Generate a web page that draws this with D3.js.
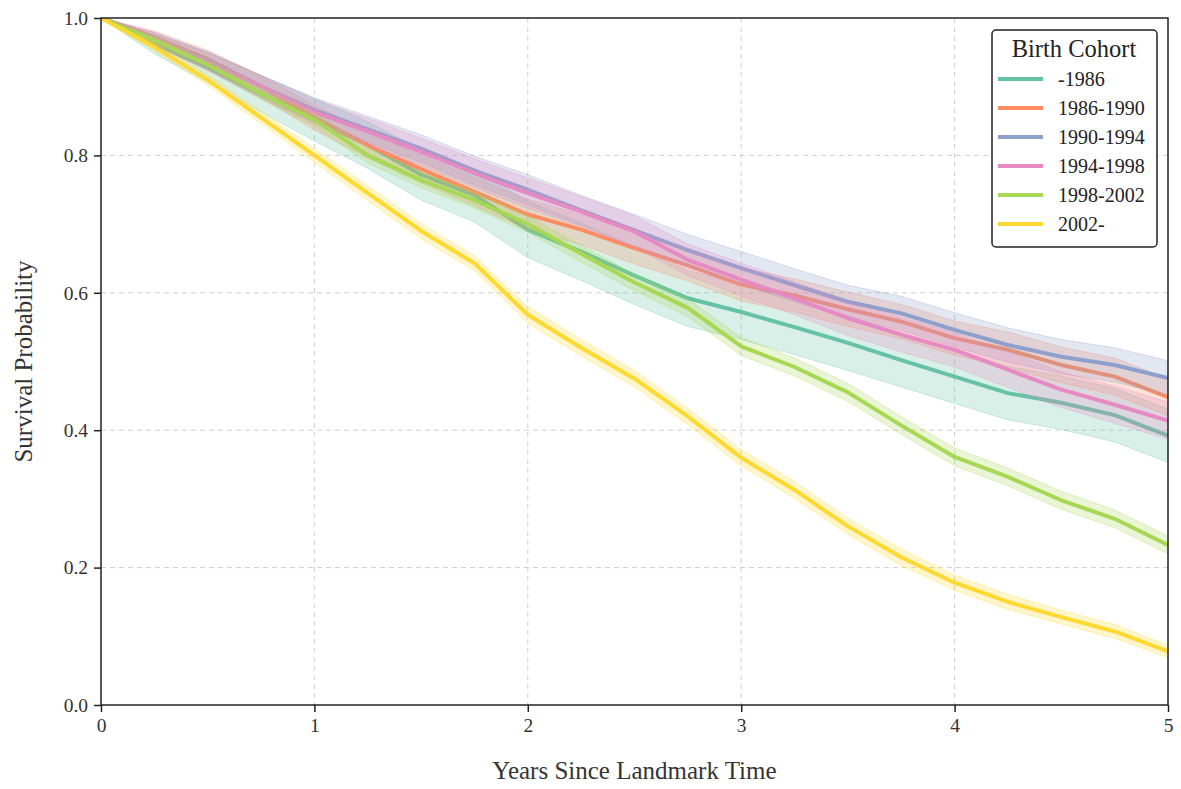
<!DOCTYPE html>
<html>
<head>
<meta charset="utf-8">
<script src="https://cdn.jsdelivr.net/npm/d3@7"></script>
<style>
  body { margin: 0; background: #fff; }
  svg { font-family: "Liberation Serif", "Times New Roman", serif; }
</style>
</head>
<body>
<div id="plot"></div>
<script>
// Time grid (years since landmark) shared by every cohort
const times = [0, 0.25, 0.5, 0.75, 1, 1.25, 1.5, 1.75, 2, 2.25, 2.5, 2.75, 3, 3.25, 3.5, 3.75, 4, 4.25, 4.5, 4.75, 5];

const cohorts = ["-1986", "1986-1990", "1990-1994", "1994-1998", "1998-2002", "2002-"];
const colors = ["#66c2a5", "#fc8d62", "#8da0cb", "#e78ac3", "#a6d854", "#ffd92f"];

// survival estimates
const surv1986 = [1.0, 0.962, 0.928, 0.89, 0.852, 0.815, 0.772, 0.742, 0.692, 0.66, 0.625, 0.592, 0.572, 0.55, 0.527, 0.502, 0.478, 0.454, 0.44, 0.422, 0.392];
const surv1990 = [1.0, 0.972, 0.94, 0.9, 0.855, 0.815, 0.78, 0.747, 0.714, 0.692, 0.665, 0.64, 0.612, 0.596, 0.576, 0.558, 0.534, 0.517, 0.495, 0.478, 0.448];
const surv1994 = [1.0, 0.97, 0.938, 0.9, 0.866, 0.838, 0.81, 0.778, 0.75, 0.72, 0.691, 0.662, 0.636, 0.611, 0.587, 0.57, 0.546, 0.524, 0.507, 0.495, 0.476];
const surv1998 = [1.0, 0.97, 0.936, 0.9, 0.863, 0.835, 0.805, 0.774, 0.745, 0.718, 0.689, 0.648, 0.619, 0.592, 0.563, 0.539, 0.517, 0.488, 0.459, 0.437, 0.414];
const surv2002 = [1.0, 0.968, 0.932, 0.89, 0.852, 0.8, 0.764, 0.735, 0.7, 0.657, 0.615, 0.578, 0.522, 0.492, 0.455, 0.407, 0.361, 0.332, 0.298, 0.271, 0.233];
const survLate = [1.0, 0.958, 0.91, 0.855, 0.8, 0.745, 0.69, 0.643, 0.568, 0.52, 0.475, 0.42, 0.36, 0.313, 0.26, 0.215, 0.178, 0.15, 0.128, 0.107, 0.078];

// half width of the 95% confidence band
const ci1986 = [0, 0.014, 0.022, 0.027, 0.031, 0.034, 0.037, 0.039, 0.041, 0.042, 0.042, 0.041, 0.04, 0.04, 0.04, 0.039, 0.039, 0.039, 0.039, 0.039, 0.039];
const ci1990 = [0, 0.009, 0.013, 0.016, 0.018, 0.019, 0.02, 0.021, 0.022, 0.022, 0.023, 0.023, 0.024, 0.024, 0.025, 0.025, 0.025, 0.026, 0.026, 0.027, 0.027];
const ci1994 = [0, 0.009, 0.013, 0.016, 0.018, 0.019, 0.02, 0.021, 0.022, 0.022, 0.023, 0.023, 0.024, 0.024, 0.024, 0.025, 0.025, 0.025, 0.025, 0.025, 0.025];
const ci1998 = [0, 0.009, 0.013, 0.016, 0.018, 0.019, 0.02, 0.021, 0.022, 0.022, 0.023, 0.023, 0.024, 0.024, 0.025, 0.025, 0.025, 0.026, 0.026, 0.027, 0.027];
const ci2002 = [0, 0.006, 0.008, 0.009, 0.01, 0.011, 0.011, 0.012, 0.012, 0.012, 0.012, 0.013, 0.013, 0.013, 0.013, 0.013, 0.013, 0.013, 0.013, 0.013, 0.013];
const ciLate = [0, 0.006, 0.008, 0.009, 0.01, 0.011, 0.011, 0.011, 0.012, 0.012, 0.012, 0.012, 0.012, 0.012, 0.012, 0.012, 0.011, 0.011, 0.01, 0.01, 0.009];

const xTicks = [0, 1, 2, 3, 4, 5];
const yTicks = [0.0, 0.2, 0.4, 0.6, 0.8, 1.0];

const survData = [surv1986, surv1990, surv1994, surv1998, surv2002, survLate];
const ciData = [ci1986, ci1990, ci1994, ci1998, ci2002, ciLate];

// Dimensions
const W = 1181, H = 789;
const margin = { top: 18, right: 13, bottom: 84, left: 101 };
const width = W - margin.left - margin.right;
const height = H - margin.top - margin.bottom;

const svg = d3.select("#plot")
  .append("svg")
  .attr("width", W)
  .attr("height", H);

const g = svg.append("g")
  .attr("transform", `translate(${margin.left},${margin.top})`);

const x = d3.scaleLinear().domain([0, 5]).range([0, width]);
const y = d3.scaleLinear().domain([0, 1]).range([height, 0]);

// Grid
g.append("g").selectAll("line")
  .data(xTicks.slice(1, -1))
  .join("line")
  .attr("x1", d => x(d)).attr("x2", d => x(d))
  .attr("y1", 0).attr("y2", height)
  .attr("stroke", "#cfcfcf").attr("stroke-width", 1)
  .attr("stroke-dasharray", "5,4");

g.append("g").selectAll("line")
  .data(yTicks.slice(1, -1))
  .join("line")
  .attr("x1", 0).attr("x2", width)
  .attr("y1", d => y(d)).attr("y2", d => y(d))
  .attr("stroke", "#cfcfcf").attr("stroke-width", 1)
  .attr("stroke-dasharray", "5,4");

// Curves
const area = d3.area()
  .x(d => x(d.t))
  .y0(d => y(Math.max(0, d.s - d.c)))
  .y1(d => y(Math.min(1, d.s + d.c)));

const line = d3.line()
  .x(d => x(d.t))
  .y(d => y(d.s));

svg.append("defs").append("clipPath").attr("id", "clip")
  .append("rect").attr("width", width).attr("height", height);

const curves = g.append("g").attr("clip-path", "url(#clip)");

cohorts.forEach((name, i) => {
  const pts = times.map((t, k) => ({ t: t, s: survData[i][k], c: ciData[i][k] }));
  curves.append("path")
    .datum(pts)
    .attr("d", area)
    .attr("fill", colors[i])
    .attr("fill-opacity", 0.25)
    .attr("stroke", colors[i])
    .attr("stroke-opacity", 0.3)
    .attr("stroke-width", 1);
  curves.append("path")
    .datum(pts)
    .attr("d", line)
    .attr("fill", "none")
    .attr("stroke", colors[i])
    .attr("stroke-width", 4)
    .attr("stroke-linejoin", "round");
});

// Axes
const xAxis = g.append("g")
  .attr("transform", `translate(0,${height})`)
  .call(d3.axisBottom(x).tickValues(xTicks).tickFormat(d3.format("d")).tickSize(7).tickPadding(6));

const yAxis = g.append("g")
  .call(d3.axisLeft(y).tickValues(yTicks).tickFormat(d3.format(".1f")).tickSize(7).tickPadding(6));

[xAxis, yAxis].forEach(ax => {
  ax.select(".domain").remove();
  ax.selectAll(".tick line").attr("stroke", "#222").attr("stroke-width", 1.5);
  ax.selectAll(".tick text")
    .attr("fill", "#333")
    .style("font-size", "19.5px")
    .style("font-family", "'Liberation Serif', serif");
});

// Frame
g.append("rect")
  .attr("width", width).attr("height", height)
  .attr("fill", "none")
  .attr("stroke", "#222").attr("stroke-width", 1.5);

// Axis titles
svg.append("text")
  .attr("x", margin.left + width / 2)
  .attr("y", 779)
  .attr("text-anchor", "middle")
  .attr("fill", "#333")
  .style("font-size", "25px")
  .text("Years Since Landmark Time");

svg.append("text")
  .attr("transform", `translate(32,${margin.top + height / 2}) rotate(-90)`)
  .attr("text-anchor", "middle")
  .attr("fill", "#333")
  .style("font-size", "25px")
  .text("Survival Probability");

// Legend
const legend = svg.append("g").attr("transform", "translate(992,30)");

legend.append("rect")
  .attr("width", 165).attr("height", 217)
  .attr("rx", 4)
  .attr("fill", "#fff")
  .attr("stroke", "#222").attr("stroke-width", 1.5);

legend.append("text")
  .attr("x", 82).attr("y", 27)
  .attr("text-anchor", "middle")
  .attr("fill", "#222")
  .style("font-size", "24.5px")
  .text("Birth Cohort");

cohorts.forEach((name, i) => {
  const ly = 49 + i * 29;
  legend.append("line")
    .attr("x1", 6).attr("x2", 51)
    .attr("y1", ly).attr("y2", ly)
    .attr("stroke", colors[i]).attr("stroke-width", 4);
  legend.append("text")
    .attr("x", 66).attr("y", ly + 7)
    .attr("fill", "#222")
    .style("font-size", "20px")
    .text(name);
});
</script>
</body>
</html>
